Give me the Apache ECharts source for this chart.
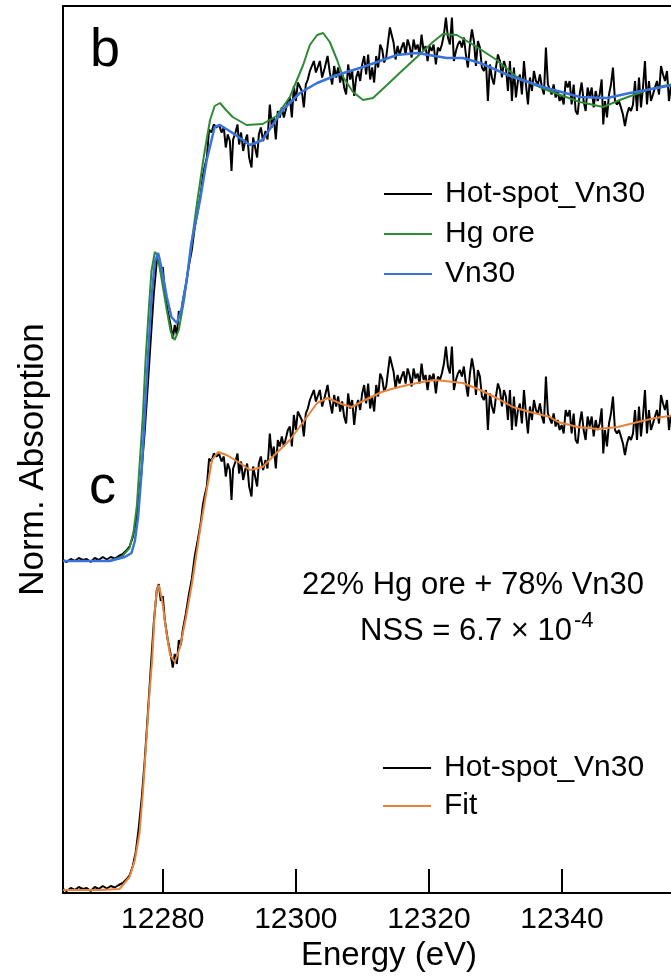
<!DOCTYPE html>
<html>
<head>
<meta charset="utf-8">
<script src="https://cdn.jsdelivr.net/npm/echarts@6/dist/echarts.min.js"></script>
<style>
html,body{margin:0;padding:0;background:#fff;}
#chart{width:671px;height:977px;}
</style>
</head>
<body>
<div id="chart"></div>
<script>
// ---- data ----
const xTicks = [12280, 12300, 12320, 12340];
const offsetB = 0.658; // vertical offset of panel b spectra

const energyHot = [12264.96,12265.56,12266.17,12266.77,12267.37,12267.97,12268.57,12269.17,12269.77,12270.38,12270.98,12271.58,12272.18,12272.78,12273.38,12273.98,12274.59,12275.04,12275.49,12275.94,12276.39,12276.84,12277.29,12277.74,12278.20,12278.65,12279.10,12279.40,12279.70,12280.00,12280.30,12280.75,12281.20,12281.50,12281.80,12282.11,12282.41,12282.71,12283.01,12283.46,12283.91,12284.36,12284.81,12285.26,12285.71,12286.02,12286.32,
12286.62,12286.96,12287.32,12287.67,12288.08,12288.47,12288.83,12289.17,12289.47,12289.77,12290.08,12290.33,12290.57,12290.93,12291.23,12291.47,12291.77,12292.08,12292.38,12292.68,12292.98,12293.34,12293.58,12293.88,12294.18,12294.44,12294.74,12295.08,12295.44,12295.74,12296.09,12296.39,12296.69,12296.99,12297.29,12297.59,12297.89,12298.20,12298.50,12298.80,12299.10,12299.40,12299.70,12300.00,12300.30,12300.60,12300.90,12301.20,12301.50,12301.80,12302.11,12302.41,12302.71,12303.01,12303.35,
12303.61,12303.95,12304.36,12304.77,12305.11,12305.46,12305.76,12306.06,12306.36,12306.66,12306.96,12307.26,12307.56,12307.86,12308.17,12308.47,12308.77,12309.07,12309.37,12309.67,12309.97,12310.27,12310.57,12310.87,12311.17,12311.47,12311.77,12312.08,12312.38,12312.68,12312.98,12313.28,12313.58,12313.88,12314.14,12314.39,12314.69,12314.99,12315.29,12315.59,12315.89,12316.20,12316.50,12316.80,12317.10,12317.40,12317.70,12318.00,12318.30,12318.60,12318.90,12319.20,12319.50,12319.80,12320.11,12320.41,12320.71,
12321.05,12321.35,12321.65,12321.95,12322.26,12322.56,12322.86,12323.16,12323.46,12323.76,12324.06,12324.36,12324.66,12324.96,12325.26,12325.56,12325.86,12326.17,12326.47,12326.77,12327.07,12327.37,12327.67,12327.97,12328.27,12328.57,12328.87,12329.17,12329.47,12329.77,12330.08,12330.38,12330.68,12330.98,12331.28,12331.58,12331.88,12332.18,12332.48,12332.78,12333.08,12333.38,12333.68,12333.98,12334.29,12334.59,12334.89,12335.19,12335.49,12335.79,12336.09,12336.39,12336.69,12336.99,12337.29,12337.59,12337.89,
12338.15,12338.45,12338.75,12339.05,12339.35,12339.65,12339.95,12340.26,12340.56,12340.86,12341.16,12341.46,12341.76,12342.06,12342.36,12342.66,12342.96,12343.26,12343.56,12343.86,12344.17,12344.47,12344.77,12345.07,12345.37,12345.67,12345.97,12346.21,12346.47,12346.77,12347.07,12347.37,12347.67,12347.97,12348.27,12348.57,12348.87,12349.17,12349.47,12349.77,12350.08,12350.38,12350.68,12350.98,12351.28,12351.58,12351.88,12352.18,12352.48,12352.78,12353.08,12353.38,12353.68,12353.98,12354.29,12354.59,12354.89,12355.19,12355.49,12355.79,12356.09,12356.39];

const muHot = [0.002,-0.002,0.004,0.000,0.006,0.002,0.004,-0.002,0.006,0.002,0.008,0.003,0.008,0.005,0.010,0.014,0.022,0.030,0.048,0.076,0.125,0.185,0.260,0.350,0.445,0.535,0.600,0.612,0.578,0.588,0.540,0.500,0.470,0.445,0.472,0.452,0.500,0.490,0.520,0.552,0.590,0.622,0.668,0.700,0.735,0.770,0.790,
0.807,0.863,0.857,0.873,0.867,0.872,0.857,0.867,0.827,0.853,0.840,0.780,0.843,0.857,0.873,0.833,0.857,0.820,0.840,0.853,0.807,0.787,0.847,0.827,0.807,0.853,0.867,0.840,0.860,0.843,0.913,0.867,0.887,0.843,0.900,0.887,0.907,0.887,0.883,0.920,0.927,0.887,0.950,0.920,0.957,0.960,0.940,0.907,0.953,0.963,0.980,0.990,1.000,0.977,0.990,
1.000,0.967,0.987,1.010,0.977,0.953,0.990,0.967,0.987,0.957,0.977,0.947,0.933,0.993,0.963,0.980,0.930,0.967,0.980,0.960,0.993,1.010,0.973,1.013,0.963,0.987,0.957,1.010,0.987,1.033,1.023,0.997,1.007,1.040,1.067,1.053,1.037,1.003,1.030,1.013,1.027,1.037,1.013,1.043,1.030,1.007,1.043,1.023,1.033,1.013,1.053,1.020,1.030,1.000,1.030,1.020,1.033,
0.993,1.027,1.020,1.033,1.053,1.087,1.047,1.033,1.087,1.000,1.020,1.033,1.040,1.027,1.047,1.013,0.987,1.033,1.063,1.040,0.990,1.040,1.027,0.987,0.980,1.000,0.920,0.993,0.967,0.953,0.987,1.013,1.000,0.967,1.000,0.987,0.940,1.000,0.920,0.987,0.927,0.960,0.973,0.933,1.000,0.953,0.913,0.967,0.940,0.980,0.960,0.953,0.973,0.947,0.933,1.027,0.953,
0.957,0.933,0.953,0.927,0.940,0.920,0.930,0.913,0.960,0.947,0.960,0.913,0.953,0.900,0.893,0.933,0.957,0.920,0.900,0.947,0.927,0.947,0.907,0.940,0.920,0.933,0.963,0.873,0.920,0.887,0.933,0.953,0.987,0.920,0.913,0.920,0.907,0.893,0.870,0.893,0.907,0.900,0.913,0.960,0.900,0.967,0.907,0.947,1.000,0.913,0.960,0.920,0.933,0.947,0.960,0.933,0.990,0.973,0.960,0.980,0.920,0.950];

const energyHg = [12265.0,12272.0,12273.8,12275.0,12275.6,12276.1,12276.5,12277.0,12277.4,12277.9,12278.3,12278.8,12279.2,12279.8,12280.6,12281.2,12281.8,12282.4,12283.2,12284.1,12285.1,12286.2,12287.1,12287.8,12288.6,12289.5,12290.5,12292.6,12295.0,12297.1,12299.1,12301.1,12302.1,12303.2,12304.1,12305.1,12306.2,12307.1,12308.6,12310.1,12311.6,12313.7,12315.6,12318.2,12320.6,12322.1,12324.2,12327.2,12330.2,12333.2,12337.7,12342.7,12346.2,12348.7,12352.8,12355.9,12357.0];
const muHg = [0,0,0.008,0.026,0.058,0.110,0.190,0.290,0.400,0.505,0.580,0.618,0.612,0.566,0.502,0.458,0.442,0.462,0.522,0.612,0.712,0.812,0.882,0.910,0.916,0.902,0.888,0.872,0.874,0.890,0.928,0.992,1.032,1.052,1.056,1.038,1.002,0.968,0.938,0.922,0.926,0.952,0.976,1.008,1.038,1.054,1.052,1.028,1.002,0.968,0.942,0.918,0.908,0.922,0.942,0.952,0.954];

const energyVn30 = [12265.0,12272.0,12274.3,12275.3,12275.8,12276.3,12276.8,12277.3,12277.8,12278.3,12278.8,12279.3,12279.8,12280.6,12281.3,12282.1,12282.8,12283.6,12284.3,12285.6,12286.6,12287.8,12288.6,12290.5,12293.1,12295.0,12298.0,12300.6,12303.2,12306.2,12310.1,12315.2,12318.2,12322.7,12325.1,12327.7,12332.6,12337.7,12342.7,12346.8,12350.2,12355.9,12357.0];
const muVn30 = [0,0,0.008,0.016,0.040,0.090,0.175,0.295,0.415,0.525,0.598,0.616,0.586,0.528,0.488,0.476,0.502,0.562,0.636,0.722,0.802,0.868,0.872,0.856,0.832,0.842,0.902,0.936,0.956,0.972,0.988,1.012,1.016,1.006,1.006,0.996,0.968,0.946,0.928,0.926,0.936,0.950,0.952];

const energyFit = [12265.0,12270.5,12273.5,12275.0,12275.8,12276.5,12277.0,12277.5,12278.0,12278.4,12278.8,12279.1,12279.4,12279.9,12280.5,12281.1,12281.8,12282.6,12283.5,12284.4,12285.6,12286.6,12287.4,12288.3,12289.6,12291.6,12293.1,12295.0,12297.1,12299.1,12301.1,12303.2,12304.8,12306.9,12308.4,12310.4,12312.9,12314.9,12316.8,12319.0,12320.9,12322.4,12325.1,12327.7,12330.2,12332.6,12335.2,12338.2,12339.4,12342.4,12345.4,12348.4,12351.4,12354.0,12356.2,12357.0];
const muFit = [0,0,0.002,0.026,0.060,0.114,0.194,0.294,0.394,0.460,0.560,0.600,0.610,0.580,0.520,0.470,0.456,0.486,0.546,0.614,0.720,0.800,0.860,0.876,0.870,0.854,0.840,0.846,0.874,0.900,0.936,0.974,0.984,0.972,0.966,0.980,0.996,1.004,1.010,1.016,1.020,1.018,1.014,1.000,0.984,0.966,0.956,0.946,0.936,0.926,0.922,0.926,0.936,0.944,0.948,0.950];

// ---- build series data ----
function pairs(xs, ys, off) { return xs.map((x, i) => [x, ys[i] + off]); }

const FONT = "'Liberation Sans', Arial, sans-serif";
const C_BLACK = '#000000', C_GREEN = '#2e8b34', C_BLUE = '#3a72dc', C_ORANGE = '#e8823a';

function lineSeries(name, data, color, width, z) {
  return {
    name: name, type: 'line', data: data, showSymbol: false, symbol: 'none',
    color: color, lineStyle: { color: color, width: width }, itemStyle: { color: color },
    z: z, animation: false, silent: true
  };
}

const chart = echarts.init(document.getElementById('chart'), null, { renderer: 'canvas' });
const legendCommon = {
  orient: 'vertical', icon: 'rect', itemWidth: 48, itemHeight: 2,
  textStyle: { fontSize: 30, fontFamily: FONT, color: '#000', lineHeight: 30, padding: [0, 0, 0, 8] },
  selectedMode: false
};
chart.setOption({
  backgroundColor: '#ffffff',
  animation: false,
  grid: { left: 63, top: 6, width: 632, height: 887, containLabel: false, outerBoundsMode: 'none' },
  xAxis: [{
    type: 'value', min: 12265, max: 12360, position: 'bottom',
    axisLine: { show: true, onZero: false, lineStyle: { color: '#000', width: 2 } },
    axisTick: { show: true, inside: true, length: 24, lineStyle: { color: '#000', width: 2 }, customValues: xTicks },
    axisLabel: { show: true, color: '#000', fontSize: 30, fontFamily: FONT, margin: 12, customValues: xTicks, formatter: v => String(v) },
    splitLine: { show: false },
    name: 'Energy (eV)', nameLocation: 'middle', nameGap: 44,
    nameTextStyle: { fontSize: 33, fontFamily: FONT, color: '#000', padding: [0, 0, 0, 20] }
  }, {
    type: 'value', min: 12265, max: 12360, position: 'top',
    axisLine: { show: true, onZero: false, lineStyle: { color: '#000', width: 2 } },
    axisTick: { show: false }, axisLabel: { show: false }, splitLine: { show: false }
  }],
  yAxis: {
    type: 'value', min: -0.006, max: 1.768,
    axisLine: { show: true, onZero: false, lineStyle: { color: '#000', width: 2 } },
    axisTick: { show: false }, axisLabel: { show: false }, splitLine: { show: false },
    name: 'Norm. Absorption', nameLocation: 'middle', nameRotate: 90, nameGap: 12,
    nameTextStyle: { fontSize: 35, fontFamily: FONT, color: '#000', padding: [0, 20, 0, 0] }
  },
  legend: [
    Object.assign({}, legendCommon, { data: ['Hot-spot_Vn30', 'Hg ore', 'Vn30'], left: 379, top: 174, itemGap: 10 }),
    Object.assign({}, legendCommon, { data: ['Hot-spot_Vn30', 'Fit'], left: 378, top: 748, itemGap: 8 })
  ],
  series: [
    lineSeries('Hot-spot_Vn30', pairs(energyHot, muHot, offsetB), C_BLACK, 2, 2),
    lineSeries('Hg ore', pairs(energyHg, muHg, offsetB), C_GREEN, 2, 3),
    lineSeries('Vn30', pairs(energyVn30, muVn30, offsetB), C_BLUE, 2.5, 4),
    lineSeries('Hot-spot_Vn30', pairs(energyHot, muHot, 0), C_BLACK, 2, 2),
    lineSeries('Fit', pairs(energyFit, muFit, 0), C_ORANGE, 2, 4)
  ],
  graphic: [
    { type: 'text', left: 90, top: 24, style: { text: 'b', font: '54px ' + FONT, fill: '#000' } },
    { type: 'text', left: 89, top: 461, style: { text: 'c', font: '54px ' + FONT, fill: '#000' } },
    { type: 'text', left: 302, top: 570, style: { text: '22% Hg ore + 78% Vn30', font: '31px ' + FONT, fill: '#000' } },
    { type: 'text', left: 360, top: 616, style: { text: 'NSS = 6.7 × 10', font: '31px ' + FONT, fill: '#000' } },
    { type: 'text', left: 574, top: 610, style: { text: '-4', font: '22px ' + FONT, fill: '#000' } }
  ]
});
</script>
</body>
</html>
